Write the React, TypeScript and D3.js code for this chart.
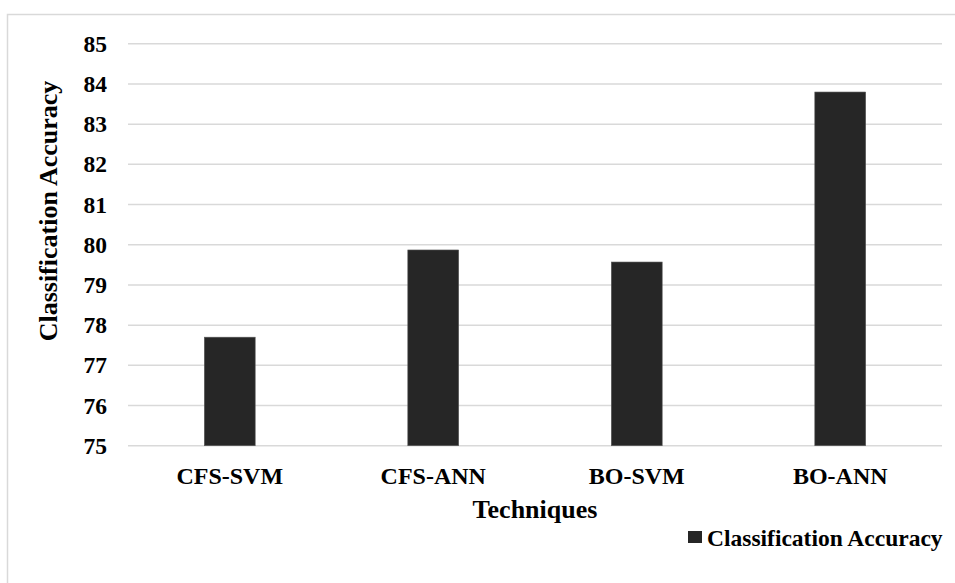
import React from "react";
import * as d3 from "d3";

const categories: string[] = ["CFS-SVM", "CFS-ANN", "BO-SVM", "BO-ANN"];
const accuracy: number[] = [77.7, 79.87, 79.57, 83.8];
const yTicks: number[] = [75, 76, 77, 78, 79, 80, 81, 82, 83, 84, 85];
const seriesName = "Classification Accuracy";
const xTitle = "Techniques";
const yTitle = "Classification Accuracy";

const W = 955;
const H = 583;
const plot = { left: 128, right: 942, top: 43.8, bottom: 445.7 };
const font = "'Liberation Serif', 'Times New Roman', serif";

export default function App() {
  const x = d3
    .scaleBand<string>()
    .domain(categories)
    .range([plot.left, plot.right])
    .paddingInner(0.75)
    .paddingOuter(0.375);
  const y = d3.scaleLinear().domain([75, 85]).range([plot.bottom, plot.top]);

  return (
    <svg
      width={W}
      height={H}
      style={{ position: "absolute", left: 0, top: 0, background: "#fff" }}
      fontFamily={font}
      fontWeight="bold"
    >
      {/* chart frame */}
      <rect x={7.5} y={14.5} width={1000} height={700} fill="none" stroke="#d9d9d9" strokeWidth={1.5} />

      {/* gridlines */}
      {yTicks.map((t) => (
        <line
          key={"g" + t}
          x1={plot.left}
          x2={plot.right}
          y1={y(t)}
          y2={y(t)}
          stroke="#d9d9d9"
          strokeWidth={1.5}
        />
      ))}

      {/* y tick labels */}
      {yTicks.map((t) => (
        <text key={"t" + t} x={107} y={y(t)} dy="0.34em" textAnchor="end" fontSize={23.5} fill="#000">
          {t}
        </text>
      ))}

      {/* bars */}
      {categories.map((c, i) => (
        <rect
          key={c}
          x={x(c)!}
          y={y(accuracy[i])}
          width={x.bandwidth()}
          height={y(75) - y(accuracy[i])}
          fill="#262626"
          stroke="#595959"
          strokeWidth={0.6}
        />
      ))}

      {/* category labels */}
      {categories.map((c) => (
        <text key={"l" + c} x={x(c)! + x.bandwidth() / 2} y={484} textAnchor="middle" fontSize={24} fill="#000">
          {c}
        </text>
      ))}

      {/* axis titles */}
      <text x={(plot.left + plot.right) / 2} y={518} textAnchor="middle" fontSize={26} fill="#000">
        {xTitle}
      </text>
      <text transform="translate(57, 211) rotate(-90)" textAnchor="middle" fontSize={26} fill="#000">
        {yTitle}
      </text>

      {/* legend */}
      <rect x={688} y={531} width={14} height={12} fill="#262626" />
      <text x={707} y={546} fontSize={23.5} fill="#000">
        {seriesName}
      </text>
    </svg>
  );
}
